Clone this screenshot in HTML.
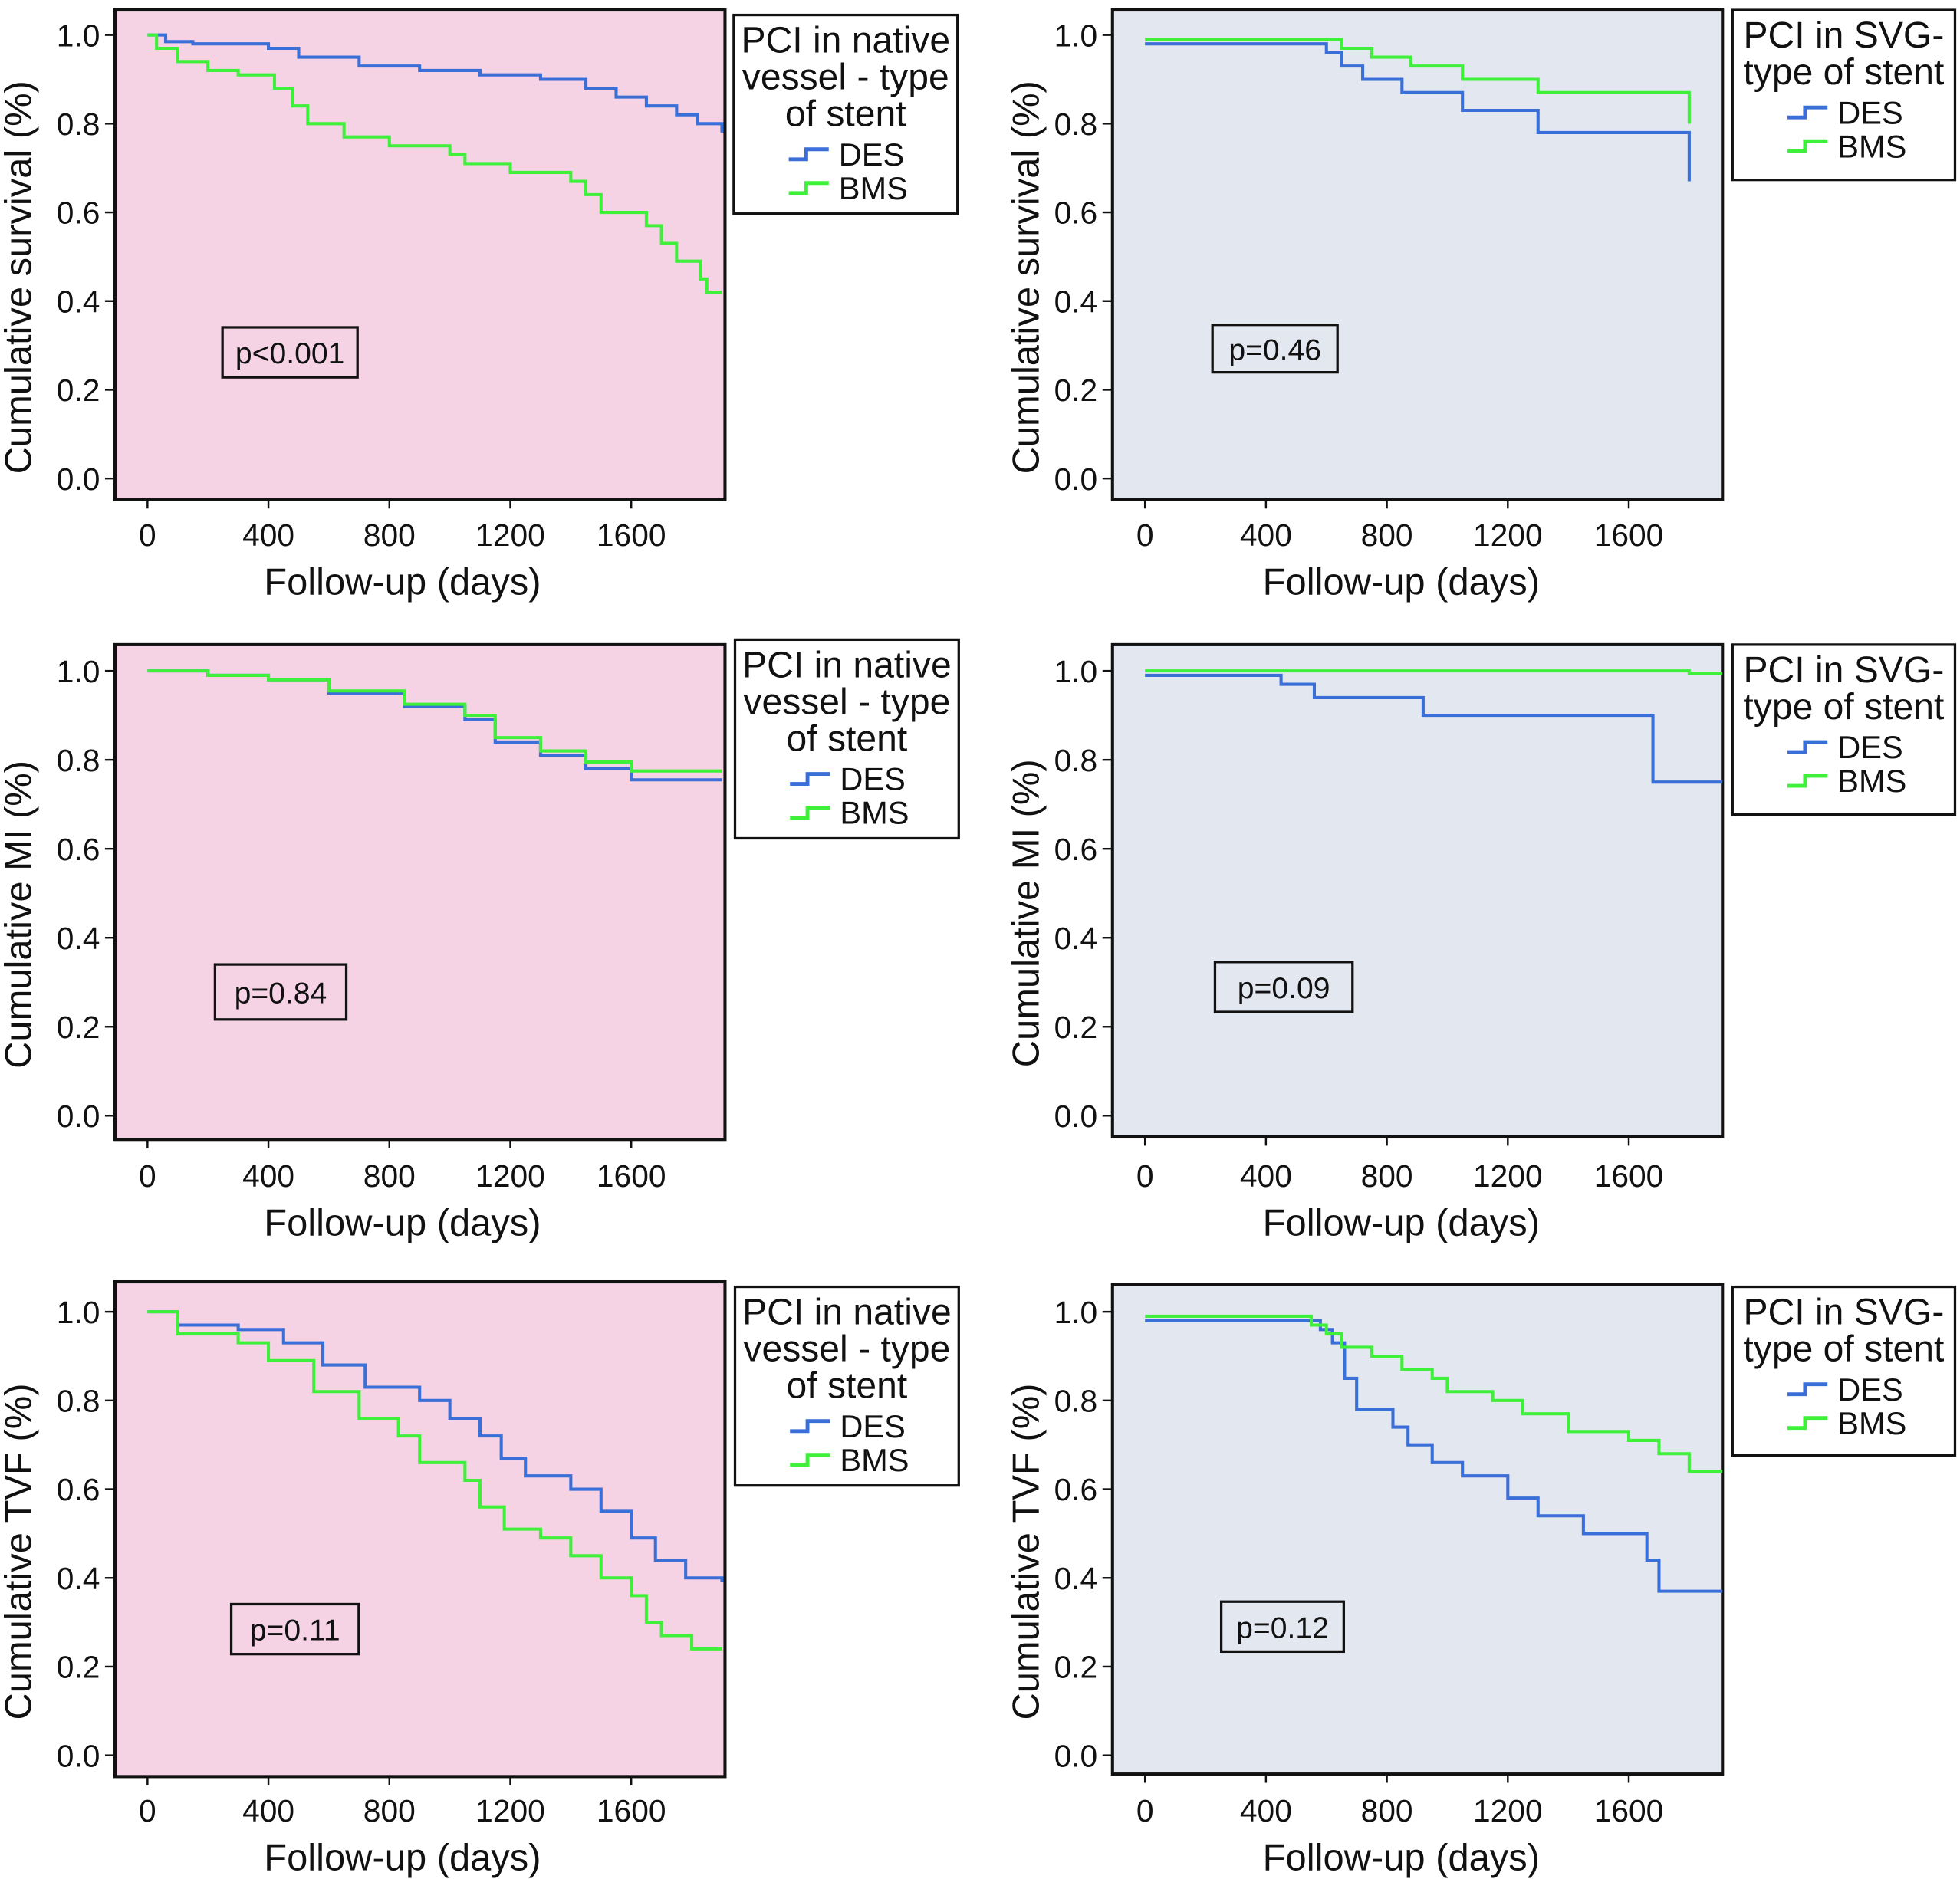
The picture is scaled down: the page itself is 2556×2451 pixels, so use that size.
<!DOCTYPE html>
<html><head><meta charset="utf-8"><title>Kaplan-Meier curves</title>
<style>
html,body{margin:0;padding:0;background:#fff;}
svg{display:block;font-family:"Liberation Sans",sans-serif;}
</style></head>
<body>
<svg id="chart" width="2556" height="2451" viewBox="0 0 1568 1504" preserveAspectRatio="none" xmlns="http://www.w3.org/2000/svg"></svg>
<script>
// ---- data (time in days, cumulative proportion) ----
const xTicks = [0, 400, 800, 1200, 1600];
const yTicks = [0.0, 0.2, 0.4, 0.6, 0.8, 1.0];
const seriesNames = ["DES", "BMS"];

const survNativeDesT = [0, 60, 150, 400, 500, 700, 900, 1100, 1300, 1450, 1550, 1650, 1750, 1820, 1900];
const survNativeDesV = [1.0, 0.985, 0.98, 0.97, 0.95, 0.93, 0.92, 0.91, 0.90, 0.88, 0.86, 0.84, 0.82, 0.80, 0.78];
const survNativeBmsT = [0, 30, 100, 200, 300, 420, 480, 530, 650, 800, 1000, 1050, 1200, 1400, 1450, 1500, 1650, 1700, 1750, 1830, 1850, 1900];
const survNativeBmsV = [1.0, 0.97, 0.94, 0.92, 0.91, 0.88, 0.84, 0.80, 0.77, 0.75, 0.73, 0.71, 0.69, 0.67, 0.64, 0.60, 0.57, 0.53, 0.49, 0.45, 0.42, 0.42];

const survSvgDesT = [0, 550, 600, 650, 720, 850, 1050, 1300, 1800, 1800];
const survSvgDesV = [0.98, 0.98, 0.96, 0.93, 0.90, 0.87, 0.83, 0.78, 0.78, 0.67];
const survSvgBmsT = [0, 550, 650, 750, 880, 1050, 1300, 1800, 1800];
const survSvgBmsV = [0.99, 0.99, 0.97, 0.95, 0.93, 0.90, 0.87, 0.87, 0.80];

const miNativeDesT = [0, 200, 400, 600, 850, 1050, 1150, 1300, 1450, 1600, 1900];
const miNativeDesV = [1.0, 0.99, 0.98, 0.95, 0.92, 0.89, 0.84, 0.81, 0.78, 0.755, 0.755];
const miNativeBmsT = [0, 200, 400, 600, 850, 1050, 1150, 1300, 1450, 1600, 1900];
const miNativeBmsV = [1.0, 0.99, 0.98, 0.955, 0.925, 0.90, 0.85, 0.82, 0.795, 0.775, 0.775];

const miSvgDesT = [0, 450, 560, 920, 1680, 1910];
const miSvgDesV = [0.99, 0.97, 0.94, 0.90, 0.75, 0.75];
const miSvgBmsT = [0, 1800, 1910];
const miSvgBmsV = [1.0, 0.995, 0.995];

const tvfNativeDesT = [0, 100, 300, 450, 580, 720, 900, 1000, 1100, 1170, 1250, 1400, 1500, 1600, 1680, 1780, 1900];
const tvfNativeDesV = [1.0, 0.97, 0.96, 0.93, 0.88, 0.83, 0.80, 0.76, 0.72, 0.67, 0.63, 0.60, 0.55, 0.49, 0.44, 0.40, 0.39];
const tvfNativeBmsT = [0, 100, 300, 400, 550, 700, 830, 900, 1050, 1100, 1180, 1300, 1400, 1500, 1600, 1650, 1700, 1800, 1900];
const tvfNativeBmsV = [1.0, 0.95, 0.93, 0.89, 0.82, 0.76, 0.72, 0.66, 0.62, 0.56, 0.51, 0.49, 0.45, 0.40, 0.36, 0.30, 0.27, 0.24, 0.24];

const tvfSvgDesT = [0, 550, 580, 620, 660, 700, 820, 870, 950, 1050, 1200, 1300, 1450, 1660, 1700, 1910];
const tvfSvgDesV = [0.98, 0.98, 0.96, 0.93, 0.85, 0.78, 0.74, 0.70, 0.66, 0.63, 0.58, 0.54, 0.50, 0.44, 0.37, 0.37];
const tvfSvgBmsT = [0, 500, 550, 600, 650, 750, 850, 950, 1000, 1150, 1250, 1400, 1600, 1700, 1800, 1910];
const tvfSvgBmsV = [0.99, 0.99, 0.97, 0.95, 0.92, 0.90, 0.87, 0.85, 0.82, 0.80, 0.77, 0.73, 0.71, 0.68, 0.64, 0.64];

const pValues = ["p<0.001", "p=0.46", "p=0.84", "p=0.09", "p=0.11", "p=0.12"];
const yTitles = ["Cumulative survival (%)", "Cumulative survival (%)", "Cumulative MI (%)", "Cumulative MI (%)", "Cumulative TVF (%)", "Cumulative TVF (%)"];

// ---- layout ----
const NS = "http://www.w3.org/2000/svg";
const svg = document.getElementById("chart");
const BLUE = "#3a6fd8", GREEN = "#3ff03a";
function el(tag, attrs, parent) {
  const e = document.createElementNS(NS, tag);
  for (const k in attrs) e.setAttribute(k, attrs[k]);
  (parent || svg).appendChild(e);
  return e;
}
const panels = [
  {left:true, top:8, bottom:400, y1:28, y0:383, des:[survNativeDesT,survNativeDesV], bms:[survNativeBmsT,survNativeBmsV], leg:[587,12,766,171], p:[178,262,286,302]},
  {left:false, top:8, bottom:400, y1:28, y0:383, des:[survSvgDesT,survSvgDesV], bms:[survSvgBmsT,survSvgBmsV], leg:[1386,8,1564,144], p:[970,260,1070,298]},
  {left:true, top:516, bottom:912, y1:537, y0:893, des:[miNativeDesT,miNativeDesV], bms:[miNativeBmsT,miNativeBmsV], leg:[588,512,767,671], p:[172,772,277,816]},
  {left:false, top:516, bottom:910, y1:537, y0:893, des:[miSvgDesT,miSvgDesV], bms:[miSvgBmsT,miSvgBmsV], leg:[1386,516,1564,652], p:[972,770,1082,810]},
  {left:true, top:1026, bottom:1422, y1:1050, y0:1405, des:[tvfNativeDesT,tvfNativeDesV], bms:[tvfNativeBmsT,tvfNativeBmsV], leg:[588,1030,767,1189], p:[185,1284,287,1324]},
  {left:false, top:1028, bottom:1420, y1:1050, y0:1405, des:[tvfSvgDesT,tvfSvgDesV], bms:[tvfSvgBmsT,tvfSvgBmsV], leg:[1386,1030,1564,1165], p:[977,1282,1075,1322]}
];

panels.forEach((P, i) => {
  const x0px = P.left ? 118 : 916;
  const pl = P.left ? 92 : 890, pr = P.left ? 580 : 1378;
  const xs = d => x0px + d * (96.75 / 400);
  const ys = v => P.y0 + v * (P.y1 - P.y0);
  const g = el("g", {});
  
  

  const bg = el("rect", {x:pl, y:P.top, width:pr-pl, height:P.bottom-P.top, fill: P.left ? "#f6d2e5" : "#e3e7ef", stroke:"#111", "stroke-width":2.5}, g);
  
  

  yTicks.forEach(t => {
    const y = ys(t);
    const tk = el("line", {x1:pl-8, x2:pl, y1:y, y2:y, stroke:"#111", "stroke-width":1.5}, g);
    
    
    const tl = el("text", {x:pl-12, y:y+9, "font-size":25, "text-anchor":"end", fill:"#111"}, g);
    tl.textContent = t.toFixed(1);
    
    
  });
  const tickY = (i<2) ? 428 : (i<4 ? 941 : 1449);
  xTicks.forEach(t => {
    const x = xs(t);
    const tk = el("line", {x1:x, x2:x, y1:P.bottom, y2:P.bottom+7, stroke:"#111", "stroke-width":1.5}, g);
    
    
    const tl = el("text", {x:x, y:tickY+9, "font-size":25, "text-anchor":"middle", fill:"#111"}, g);
    tl.textContent = String(t);
    
    
  });
  const xt = el("text", {x:(P.left?322:1121), y:tickY+48, "font-size":30, "text-anchor":"middle", fill:"#111"}, g);
  xt.textContent = "Follow-up (days)";
  
  
  const cy = (P.top + P.bottom) / 2 + 18;
  const tx = P.left ? 25 : 831;
  const yt = el("text", {x:tx, y:cy, "font-size":30, "text-anchor":"middle", fill:"#111", transform:`rotate(-90 ${tx} ${cy})`}, g);
  yt.textContent = yTitles[i];
  
  

  [[P.des, BLUE, 'des-curve'], [P.bms, GREEN, 'bms-curve']].forEach(([s, col, nm]) => {
    const T = s[0], V = s[1];
    let d = `M${xs(T[0])},${ys(V[0])}`;
    for (let k = 1; k < T.length; k++) {
      d += ` H${xs(T[k])} V${ys(V[k])}`;
    }
    const p = el("path", {d:d, fill:"none", stroke:col, "stroke-width":2.5}, g);
    
    
  });

  const [a,b,c,e] = P.p;
  const pb = el("rect", {x:a, y:b, width:c-a, height:e-b, fill:"none", stroke:"#111", "stroke-width":2}, g);
  
  
  const pt = el("text", {x:(a+c)/2, y:(b+e)/2+9, "font-size":24, "text-anchor":"middle", fill:"#111"}, g);
  pt.textContent = pValues[i];
  
  

  const [lx,ly,lr,lb] = P.leg;
  const lg = el("g", {}, g);
  
  
  const lrect = el("rect", {x:lx, y:ly, width:lr-lx, height:lb-ly, fill:"#fff", stroke:"#111", "stroke-width":2}, lg);
  
  
  const lines = P.left ? ["PCI in native", "vessel - type", "of stent"] : ["PCI in SVG-", "type of stent"];
  lines.forEach((ln, k) => {
    const t = el("text", {x:(lx+lr)/2, y:ly+30+k*29.5, "font-size":29.5, "text-anchor":"middle", fill:"#111"}, lg);
    t.textContent = ln;
    
    
  });
  const base = ly + 29 + lines.length*29.5;
  seriesNames.forEach((nm, k) => {
    const yy = base + k*27;
    const ix = lx + 44;
    const ic = el("path", {d:`M${ix},${yy-2} H${ix+14} V${yy-10} H${ix+32}`, fill:"none", stroke: k===0?BLUE:GREEN, "stroke-width":3}, lg);
    
    
    const t = el("text", {x:ix+40, y:yy+3, "font-size":25.5, fill:"#111"}, lg);
    t.textContent = nm;
    
    
  });
});
</script>
</body></html>
